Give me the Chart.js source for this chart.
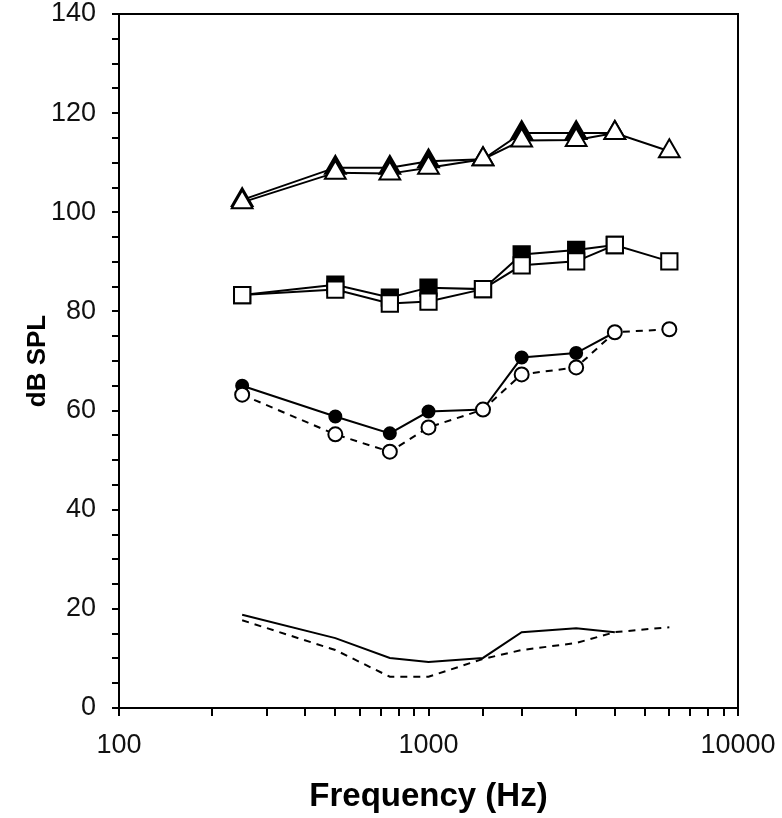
<!DOCTYPE html>
<html>
<head>
<meta charset="utf-8">
<script src="https://cdn.jsdelivr.net/npm/chart.js@4.4.0/dist/chart.umd.min.js"></script>
<style>
  html, body { margin: 0; padding: 0; background: #fff; }
  #wrap { width: 782px; height: 818px; }
</style>
</head>
<body>
<div id="wrap"><canvas id="myChart" width="782" height="818"></canvas></div>
<script>
// frequencias (Hz)
var freqs = [250, 500, 750, 1000, 1500, 2000, 3000, 4000, 6000];

// valores (dB SPL)
var triOpen = [102, 108, 107.8, 109, 110.7, 114.5, 114.6, 116, 112.3];
var triFilled = [102.5, 109, 109, 110.3, 110.7, 116, 116, 116];
var sqOpen = [83.3, 84.4, 81.6, 82, 84.5, 89.3, 90.1, 93.4, 90.1];
var sqFilled = [83.3, 85.4, 82.8, 84.8, 84.5, 91.5, 92.4, 93.4];
var circOpen = [63.2, 55.2, 51.7, 56.6, 60.2, 67.3, 68.7, 75.8, 76.4];
var circFilled = [65, 58.8, 55.4, 59.8, 60.2, 70.7, 71.6, 75.8];
var threshDashed = [17.7, 11.7, 6.3, 6.3, 9.9, 11.7, 13.1, 15.3, 16.3];
var threshSolid = [18.8, 14.1, 10.1, 9.3, 10.1, 15.3, 16.1, 15.3];

var yTickLabels = [0, 20, 40, 60, 80, 100, 120, 140];
var xTickLabels = [100, 1000, 10000];

function pontos(valores) {
    return valores.map(function (v, i) { return { x: freqs[i], y: v }; });
}

function serie(valores, estilo, preenchido, raio, tracejado) {
    return {
        data: pontos(valores),
        borderColor: '#000',
        borderWidth: 2,
        borderDash: tracejado ? [7, 6] : [],
        pointStyle: estilo || 'circle',
        pointRadius: estilo ? raio : 0,
        pointBorderWidth: 2,
        pointBorderColor: '#000',
        pointBackgroundColor: preenchido ? '#000' : '#fff',
        tension: 0,
        fill: false
    };
}

// desenha a moldura (topo e direita)
var moldura = {
    id: 'moldura',
    afterDraw: function (chart) {
        var a = chart.chartArea, c = chart.ctx;
        c.save();
        c.strokeStyle = '#000';
        c.lineWidth = 2;
        c.strokeRect(a.left, a.top, a.right - a.left, a.bottom - a.top);
        c.restore();
    }
};

var ctx = document.getElementById('myChart').getContext('2d');
var myChart = new Chart(ctx, {
    type: 'line',
    data: {
        datasets: [
            serie(triOpen, 'triangle', false, 12),
            serie(triFilled, 'triangle', true, 12),
            serie(sqOpen, 'rect', false, 11.5),
            serie(sqFilled, 'rect', true, 11.5),
            serie(circOpen, 'circle', false, 7, true),
            serie(circFilled, 'circle', true, 6),
            serie(threshDashed, null, false, 0, true),
            serie(threshSolid, null, false, 0)
        ]
    },
    options: {
        responsive: false,
        animation: false,
        layout: { padding: { top: 13, right: 44, left: 0, bottom: 0 } },
        plugins: {
            legend: { display: false },
            tooltip: { enabled: false }
        },
        scales: {
            x: {
                type: 'logarithmic',
                min: 100,
                max: 10000,
                afterFit: function (scale) {
                    scale.height = 110;
                    scale.paddingLeft = 0;
                    scale.paddingRight = 0;
                },
                grid: { drawOnChartArea: false, color: '#000', tickLength: 8, lineWidth: 2 },
                border: { color: '#000', width: 2 },
                ticks: {
                    autoSkip: false,
                    maxRotation: 0,
                    padding: 13,
                    color: '#111',
                    font: { family: 'Liberation Sans', size: 27 },
                    callback: function (v) {
                        return xTickLabels.indexOf(v) >= 0 ? String(v) : '';
                    }
                },
                title: {
                    display: true,
                    text: 'Frequency (Hz)',
                    color: '#000',
                    font: { family: 'Liberation Sans', size: 33, weight: 'bold' },
                    padding: { top: 0, bottom: 1 }
                }
            },
            y: {
                min: 0,
                max: 140,
                afterFit: function (scale) {
                    scale.width = 119;
                    scale.paddingTop = 0;
                    scale.paddingBottom = 0;
                },
                grid: { drawOnChartArea: false, color: '#000', tickLength: 7, lineWidth: 2 },
                border: { color: '#000', width: 2 },
                ticks: {
                    stepSize: 5,
                    autoSkip: false,
                    padding: 16,
                    color: '#111',
                    font: { family: 'Liberation Sans', size: 27 },
                    callback: function (v) {
                        return yTickLabels.indexOf(v) >= 0 ? String(v) : '';
                    }
                },
                title: {
                    display: true,
                    text: 'dB SPL',
                    color: '#000',
                    font: { family: 'Liberation Sans', size: 26, weight: 'bold' },
                    padding: { top: 22, bottom: 0 }
                }
            }
        }
    },
    plugins: [moldura]
});
</script>
</body>
</html>
